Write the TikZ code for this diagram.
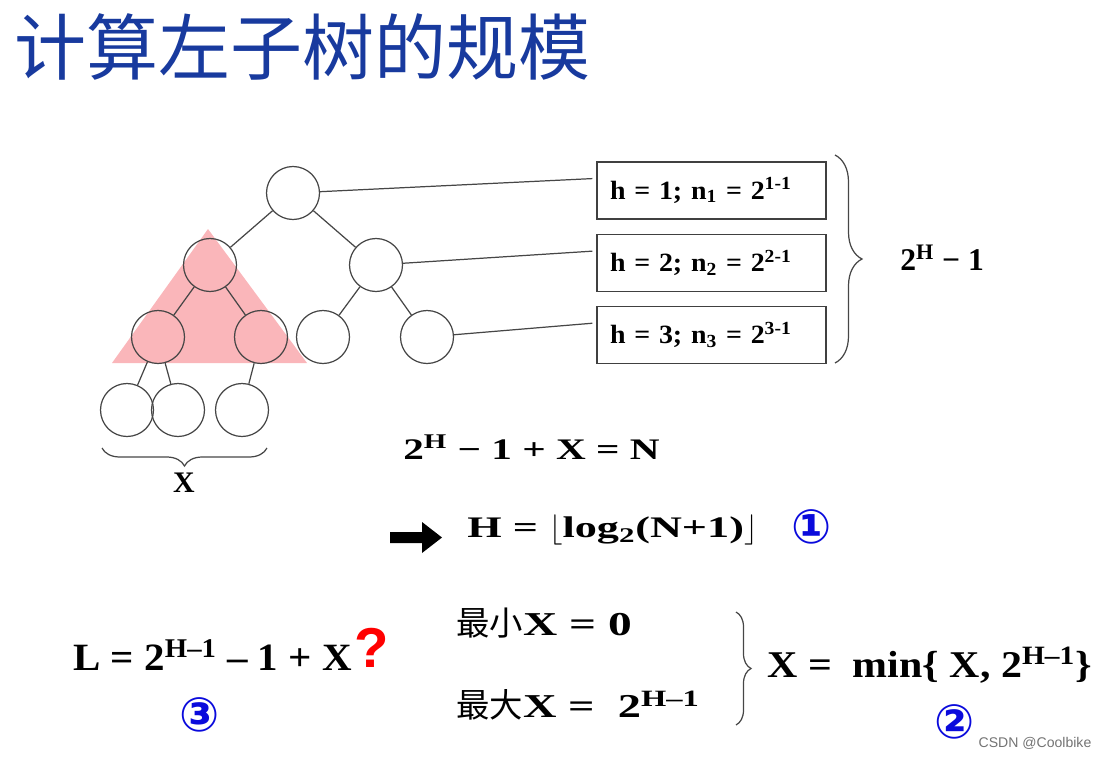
\documentclass[tikz,border=0pt]{standalone}
\usepackage{fontspec}
\setmainfont{Liberation Serif}
\newfontfamily\cjk{Noto Sans CJK SC}
\newfontfamily\symb{DejaVu Sans}
\newfontfamily\qfont{Liberation Sans}
\usetikzlibrary{decorations.pathreplacing}

\definecolor{titleblue}{RGB}{24,58,158}
\definecolor{numblue}{RGB}{10,10,220}
\definecolor{trired}{RGB}{250,182,186}
\definecolor{linegray}{RGB}{70,70,70}

\newcommand{\fsz}[1]{\fontsize{#1}{#1}\selectfont}
\newcommand{\sups}[1]{\textsuperscript{#1}}
\newcommand{\subs}[1]{\textsubscript{#1}}

\begin{document}
\begin{tikzpicture}[x=0.02cm,y=-0.02cm,
    tnode/.style={circle,draw=linegray,line width=0.7pt,minimum size=1.06cm,inner sep=0pt},
    edge/.style={draw=linegray,line width=0.7pt},
    hbox/.style={draw=black!75,line width=0.8pt,minimum width=4.58cm,minimum height=1.14cm,
      text width=4.06cm,inner xsep=0.26cm,align=left,
      font=\fsz{15}\bfseries\addfontfeature{FakeStretch=1.06}},
    brace/.style={decorate,decoration={brace,amplitude=#1},draw=linegray,line width=0.7pt},
    formula/.style n args={2}{anchor=west,inner sep=0pt,
      font=\fsz{#1}\bfseries\addfontfeature{FakeStretch=#2}},
    cnum/.style={text=numblue,inner sep=0pt,font=\fsz{27}\symb\bfseries}]
      \useasboundingbox (0,0) rectangle (1099,757);

      % title
      \node[anchor=west,inner sep=0pt,text=titleblue,font=\fsz{41}\cjk] (title) at (14,47) {计算左子树的规模};

      % left subtree
      \fill[trired] (208,229) -- (307,363) -- (112,363) -- cycle;

      % tree
      \node[tnode] (n1) at (293,193) {};
      \node[tnode] (n2) at (210,265) {};
      \node[tnode] (n3) at (376,265) {};
      \node[tnode] (n4) at (158,337) {};
      \node[tnode] (n5) at (261,337) {};
      \node[tnode] (n6) at (323,337) {};
      \node[tnode] (n7) at (427,337) {};
      \node[tnode] (n8) at (127,410) {};
      \node[tnode] (n9) at (178,410) {};
      \node[tnode] (n10) at (242,410) {};

      \path[edge] (n1) -- (n2) (n1) -- (n3);
      \path[edge] (n2) -- (n4) (n2) -- (n5);
      \path[edge] (n3) -- (n6) (n3) -- (n7);
      \path[edge] (n4) -- (n8) (n4) -- (n9);
      \path[edge] (n5) -- (n10);

      \coordinate (xr) at (267,448);
      \coordinate (xl) at (102,448);
      \draw[brace=0.36cm] (xr) -- (xl);
      \node[font=\fsz{17}\bfseries] (xlab) at (184,483) {X};

      % levels
      \node[hbox] (b1) at (711.5,190.5) {h = 1; n\subs{1} = 2\sups{1-1}};
      \node[hbox] (b2) at (711.5,263) {h = 2; n\subs{2} = 2\sups{2-1}};
      \node[hbox] (b3) at (711.5,335) {h = 3; n\subs{3} = 2\sups{3-1}};

      \path[edge,shorten >=0.08cm] (n1) -- (b1.174);
      \path[edge,shorten >=0.08cm] (n3) -- (b2.174);
      \path[edge,shorten >=0.08cm] (n7) -- (b3.174);

      \coordinate (bt) at (835,155);
      \coordinate (bb) at (835,363);
      \draw[brace=0.54cm] (bt) -- (bb);
      \node[formula={18}{1}] (full) at (900,258) {2\sups{H} − 1};

      % height
      \node[formula={17}{1.38}] (eq1) at (403,447) {2\sups{H} − 1 + X = N};
      \fill (390,532) -- (422,532) -- (422,522) -- (442,537.5) -- (422,553) -- (422,543) -- (390,543) -- cycle;
      \node[formula={17}{1.48}] (eq2) at (467,530) {H = $\big\lfloor$log\subs{2}(N+1)$\big\rfloor$};
      \node[cnum] (c1) at (812,527) {①};

      % size of left subtree
      \node[formula={22}{1.06}] (eq3) at (73,655) {L = 2\sups{H–1} – 1 + X};
      \node[text=red,inner sep=0pt,font=\fsz{32}\qfont\bfseries] (q) at (372,648) {?};
      \node[cnum] (c3) at (200,715) {③};

      \node[formula={19}{1.42}] (xmin) at (456,623) {{\cjk\mdseries 最小}X = 0};
      \node[formula={19}{1.39}] (xmax) at (456,705) {{\cjk\mdseries 最大}X =\ \ 2\sups{H–1}};
      \coordinate (mt) at (736,612);
      \coordinate (mb) at (736,725);
      \draw[brace=0.3cm] (mt) -- (mb);
      \node[formula={21.5}{1.11}] (eq4) at (767,665) {X =\ \ min\{ X, 2\sups{H–1}\}};
      \node[cnum] (c2) at (955,722) {②};

      \node[text=black!55,inner sep=0pt,font=\fsz{8}\qfont] (mark) at (1035,743) {CSDN @Coolbike};
\end{tikzpicture}
\end{document}
